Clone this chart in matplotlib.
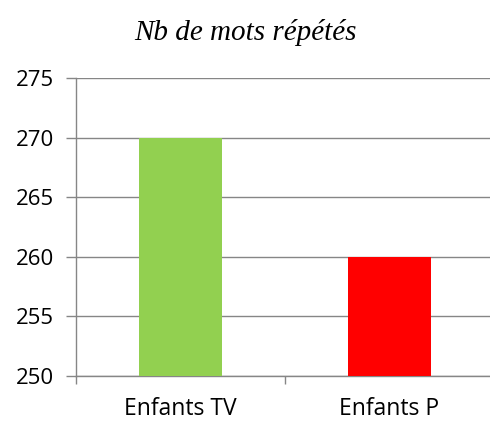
import matplotlib
matplotlib.use('Agg')
import matplotlib.pyplot as plt

# data
categories = ['Enfants TV', 'Enfants P']
values = [270, 260]
colors = ['#92D050', '#FF0000']
yticks = [250, 255, 260, 265, 270, 275]

fig = plt.figure(figsize=(4.9, 4.21), dpi=100)
ax = fig.add_axes([76 / 490, 45 / 421, 418 / 490, 298 / 421])

x = range(len(categories))
ax.bar(x, [v - 250 for v in values], bottom=250, width=0.4, color=colors, zorder=3)

ax.set_xlim(-0.5, 1.5)
ax.set_ylim(250, 275)
ax.set_yticks(yticks)
ax.set_yticklabels([str(t) for t in yticks], fontsize=16, family='Open Sans')
ax.set_xticks([-0.5, 0.5, 1.5])
ax.set_xticklabels([])
ax.set_xticks(list(x), minor=True)
ax.set_xticklabels(categories, minor=True, fontsize=16.5, family='Open Sans')
ax.tick_params(axis='x', which='minor', length=0, pad=15)
ax.tick_params(axis='x', which='major', length=6, color='#868686', width=1)
ax.tick_params(axis='y', length=7, color='#868686', width=1, pad=9)

ax.yaxis.grid(True, color='#868686', linewidth=1, zorder=0)
for s in ['top', 'right']:
    ax.spines[s].set_visible(False)
for s in ['left', 'bottom']:
    ax.spines[s].set_color('#868686')
    ax.spines[s].set_linewidth(1)

fig.text(0.5, 1 - 32 / 421, 'Nb de mots répétés', ha='center', va='center',
         fontsize=21, style='italic', family='Liberation Serif')

fig.savefig('out.png', dpi=100)
